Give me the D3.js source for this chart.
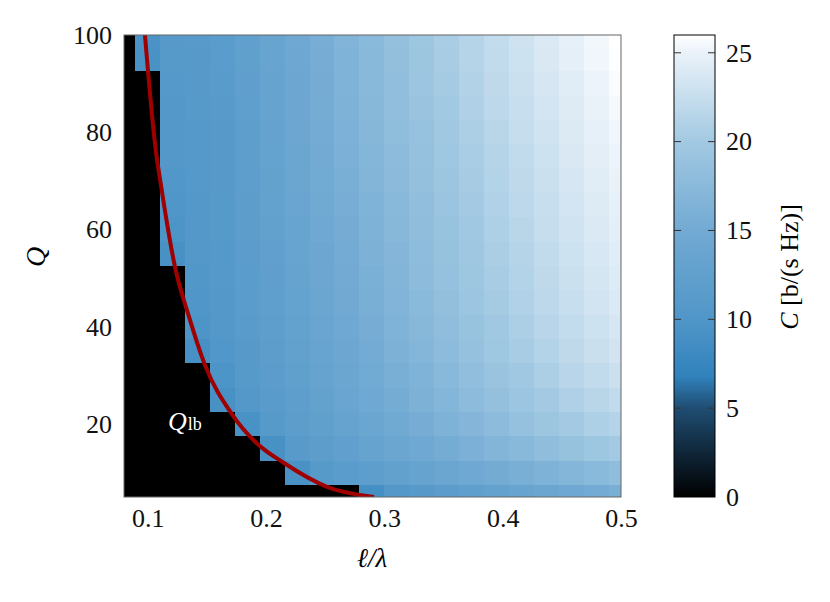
<!DOCTYPE html>
<html><head><meta charset="utf-8">
<script src="https://cdn.jsdelivr.net/npm/d3@7"></script>
<style>body{margin:0;background:#fff;} text{font-family:"Liberation Serif","DejaVu Serif",serif;}</style>
</head><body><svg id="c" width="830" height="602"></svg>
<script>
// ---- data ----
const ellOverLambda = [0.1,0.1211,0.1421,0.1632,0.1842,0.2053,0.2263,0.2474,0.2684,0.2895,0.3105,0.3316,0.3526,0.3737,0.3947,0.4158,0.4368,0.4579,0.4789,0.5];
const qValues = [100,95,90,85,80,75,70,65,60,55,50,45,40,35,30,25,20,15,10,5];
const capacity = [
 [9.5,11.0,11.2,11.5,12.5,13.5,14.5,15.6,16.6,17.5,18.5,19.5,20.5,21.4,22.3,23.1,23.9,24.7,25.4,26.0],
 [9.3,10.9,11.1,11.4,12.4,13.4,14.4,15.5,16.5,17.4,18.4,19.4,20.4,21.3,22.2,23.0,23.8,24.6,25.3,25.9],
 [0,10.8,11.0,11.3,12.3,13.3,14.3,15.4,16.4,17.3,18.3,19.3,20.2,21.1,22.0,22.8,23.6,24.4,25.1,25.7],
 [0,10.6,10.9,11.2,12.2,13.2,14.2,15.3,16.3,17.2,18.2,19.1,20.0,20.9,21.8,22.6,23.4,24.2,24.9,25.5],
 [0,10.5,10.8,11.1,12.1,13.1,14.1,15.2,16.2,17.1,18.0,18.9,19.8,20.7,21.6,22.4,23.2,24.0,24.7,25.3],
 [0,10.4,10.8,11.1,12.0,13.0,14.0,15.0,16.0,16.9,17.8,18.7,19.6,20.5,21.4,22.2,23.0,23.8,24.5,25.1],
 [0,10.3,10.7,11.0,11.9,12.9,13.9,14.9,15.8,16.7,17.6,18.5,19.4,20.3,21.2,22.0,22.8,23.6,24.3,24.9],
 [0,10.1,10.6,10.9,11.8,12.8,13.7,14.7,15.6,16.5,17.4,18.3,19.2,20.1,21.0,21.8,22.6,23.4,24.1,24.7],
 [0,9.8,10.5,10.9,11.7,12.6,13.5,14.5,15.4,16.3,17.2,18.1,19.0,19.9,20.8,21.6,22.4,23.2,23.9,24.5],
 [0,9.2,10.4,10.8,11.6,12.5,13.4,14.3,15.2,16.1,17.0,17.9,18.8,19.7,20.6,21.4,22.2,23.0,23.7,24.3],
 [0,0,10.2,10.7,11.5,12.3,13.2,14.1,15.0,15.9,16.8,17.7,18.6,19.5,20.4,21.2,22.0,22.8,23.5,24.1],
 [0,0,10.0,10.6,11.4,12.2,13.0,13.9,14.8,15.7,16.6,17.5,18.4,19.3,20.2,21.0,21.8,22.6,23.3,23.9],
 [0,0,9.7,10.5,11.3,12.0,12.8,13.7,14.6,15.5,16.4,17.2,18.1,19.0,19.9,20.7,21.5,22.3,23.0,23.6],
 [0,0,9.0,10.3,11.1,11.8,12.6,13.5,14.3,15.2,16.1,16.9,17.8,18.7,19.6,20.4,21.2,22.0,22.7,23.3],
 [0,0,0,9.8,10.9,11.6,12.4,13.2,14.0,14.9,15.7,16.5,17.4,18.3,19.1,19.9,20.7,21.5,22.2,22.8],
 [0,0,0,9.2,10.6,11.3,12.1,12.9,13.7,14.5,15.3,16.1,16.9,17.7,18.5,19.3,20.1,20.9,21.6,22.2],
 [0,0,0,0,9.3,10.9,11.7,12.4,13.2,14.0,14.7,15.5,16.3,17.0,17.8,18.6,19.4,20.1,20.8,21.4],
 [0,0,0,0,0,9.2,11.2,11.8,12.5,13.2,13.9,14.6,15.3,16.0,16.7,17.4,18.1,18.8,19.5,20.1],
 [0,0,0,0,0,0,9.4,10.9,11.5,12.1,12.7,13.3,13.9,14.5,15.1,15.7,16.3,16.9,17.5,18.1],
 [0,0,0,0,0,0,0,0,0,8.8,10.4,11.0,11.6,12.2,12.8,13.4,14.0,14.6,15.2,15.8]
];
const qlbX = [0.0977,0.1068,0.1110,0.1231,0.1349,0.1485,0.1713,0.1924,0.2152,0.2516,0.2913];
const qlbQ = [100,76.4,69.5,52.3,42.1,32.1,22.0,16.0,12.0,7.1,5.0];
const xTicks = [0.1,0.2,0.3,0.4,0.5];
const yTicks = [20,40,60,80,100];
const cTicks = [0,5,10,15,20,25];
const cmapStops = [0,5,6.8,10,15,20,25,26];
const cmapColors = ["#000000","#1f4d72","#3182bd","#5096c8","#72aad3","#a2c9e2","#eaf2f9","#ffffff"];

// ---- chart ----
const svg = d3.select("#c");
const L=124,R=621,T=35,B=497;
const x = d3.scaleLinear().domain([0.08,0.5]).range([L,R]);
const y = d3.scaleLinear().domain([5,100]).range([B,T]);
const color = d3.scaleLinear().domain(cmapStops).range(cmapColors).clamp(true);
const dx = ellOverLambda[1]-ellOverLambda[0], dq = 5;

svg.append("defs").append("clipPath").attr("id","pc").append("rect")
  .attr("x",L).attr("y",T).attr("width",R-L).attr("height",B-T);
const plot = svg.append("g").attr("clip-path","url(#pc)");
plot.append("rect").attr("x",L).attr("y",T).attr("width",R-L).attr("height",B-T).attr("fill","#000");
const cells=[];
qValues.forEach((q,i)=>ellOverLambda.forEach((e,j)=>cells.push({q,e,v:capacity[i][j]})));
plot.selectAll("rect.cell").data(cells).join("rect").attr("class","cell")
  .attr("x",d=>x(d.e-dx/2)).attr("width",d=>x(d.e+dx/2)-x(d.e-dx/2)+0.5)
  .attr("y",d=>y(d.q+dq/2)).attr("height",d=>y(d.q-dq/2)-y(d.q+dq/2)+0.5)
  .attr("fill",d=>color(d.v)).attr("shape-rendering","crispEdges");
plot.append("path").datum(qlbX.map((v,i)=>[v,qlbQ[i]]))
  .attr("d",d3.line().x(d=>x(d[0])).y(d=>y(d[1])).curve(d3.curveMonotoneX))
  .attr("fill","none").attr("stroke","#a00000").attr("stroke-width",4);
svg.append("rect").attr("x",L).attr("y",T).attr("width",R-L).attr("height",B-T)
  .attr("fill","none").attr("stroke","#666").attr("stroke-width",1);

// Q_lb label
const lab = svg.append("text").attr("x",168).attr("y",430).attr("fill","#fff").attr("font-size",26);
lab.append("tspan").attr("font-style","italic").text("Q");
lab.append("tspan").attr("font-size",18).attr("dx",1).text("lb");

// axes
const xa = svg.append("g").attr("transform",`translate(0,${B})`)
  .call(d3.axisBottom(x).tickValues(xTicks).tickSize(0).tickPadding(12).tickFormat(d3.format(".1f")));
xa.select(".domain").remove();
xa.selectAll("text").attr("font-size",26).attr("fill","#111").attr("font-family","Liberation Serif");
const ya = svg.append("g").attr("transform",`translate(${L},0)`)
  .call(d3.axisLeft(y).tickValues(yTicks).tickSize(0).tickPadding(12));
ya.select(".domain").remove();
ya.selectAll("text").attr("font-size",26).attr("fill","#111").attr("font-family","Liberation Serif");

svg.append("text").attr("x",372).attr("y",567).attr("text-anchor","middle").attr("font-size",27)
  .attr("font-style","italic").text("ℓ/λ");
svg.append("text").attr("transform","translate(45,257) rotate(-90)").attr("text-anchor","middle")
  .attr("font-size",28).attr("font-style","italic").text("Q");

// colorbar
const CL=674,CR=715;
const cy = d3.scaleLinear().domain([0,26]).range([B,T]);
const grad = svg.select("defs").append("linearGradient").attr("id","cg")
  .attr("x1",0).attr("y1",1).attr("x2",0).attr("y2",0);
cmapStops.forEach((s,i)=>grad.append("stop").attr("offset",s/26).attr("stop-color",cmapColors[i]));
svg.append("rect").attr("x",CL).attr("y",T).attr("width",CR-CL).attr("height",B-T)
  .attr("fill","url(#cg)").attr("stroke","#000").attr("stroke-width",1);
cTicks.forEach(t=>{
  if(t>0&&t<26){
    svg.append("line").attr("x1",CL).attr("x2",CL+7).attr("y1",cy(t)).attr("y2",cy(t)).attr("stroke","#333");
    svg.append("line").attr("x1",CR-7).attr("x2",CR).attr("y1",cy(t)).attr("y2",cy(t)).attr("stroke","#333");
  }
});
const ca = svg.append("g").attr("transform",`translate(${CR},0)`)
  .call(d3.axisRight(cy).tickValues(cTicks).tickSize(0).tickPadding(11));
ca.select(".domain").remove();
ca.selectAll("text").attr("font-size",26).attr("fill","#111").attr("font-family","Liberation Serif");
const ct = svg.append("text").attr("transform","translate(798,267) rotate(-90)").attr("text-anchor","middle").attr("font-size",26);
ct.append("tspan").attr("font-style","italic").text("C");
ct.append("tspan").text(" [b/(s Hz)]");
</script></body></html>
